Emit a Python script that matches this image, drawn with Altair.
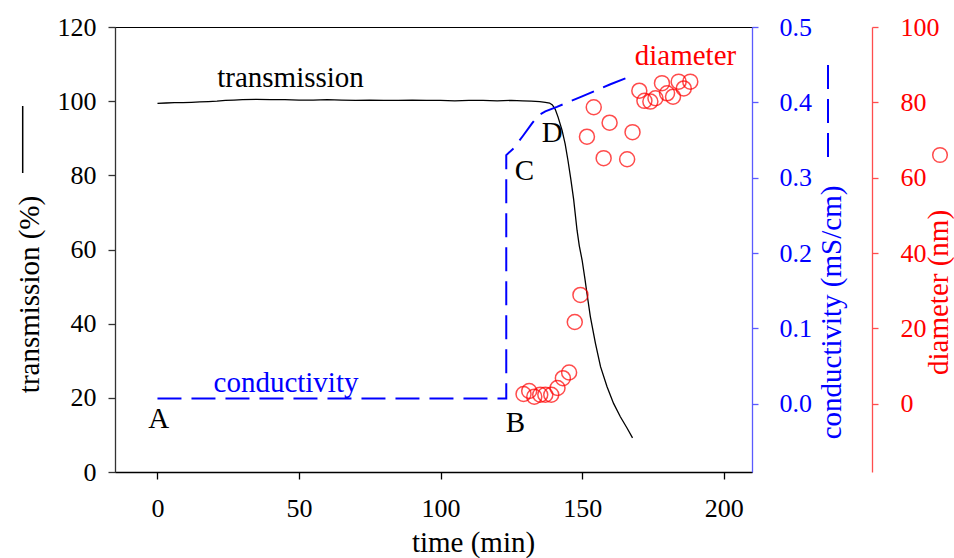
import altair as alt
import pandas as pd

FONT = "Liberation Serif"

# Transmission (%) against time (min)
trans_time = [0, 3, 6, 9, 12, 15, 18, 21, 24, 27, 30, 35, 40, 45, 50, 55, 60, 65, 70, 75,
              80, 85, 90, 95, 100, 105, 110, 115, 120, 125, 129, 132, 135, 137, 138.5,
              139.5, 140.5, 141.5, 142.9, 144, 145, 146, 147, 148.2, 149, 150, 151,
              151.7, 152.9, 154.7, 156.5, 158.8, 161.1, 163.5, 165.9, 167.8]
trans_value = [99.4, 99.5, 99.6, 99.6, 99.7, 99.8, 99.9, 100.0, 100.2, 100.3, 100.4, 100.5,
               100.4, 100.4, 100.3, 100.3, 100.4, 100.3, 100.2, 100.3, 100.2, 100.2, 100.3,
               100.2, 100.2, 100.1, 100.2, 100.2, 100.1, 100.2, 100.1, 100.0, 99.9, 99.7,
               99.5, 99.0, 97.8, 95.7, 92.2, 88.5, 84.0, 79.0, 73.5, 65.2, 61.0, 57.1, 52.0,
               48.2, 41.9, 34.7, 28.4, 23.0, 18.5, 14.9, 11.8, 9.2]

# Conductivity (mS/cm)
cond_time = [0, 123.2, 123.2, 125.8, 129.0, 132.3, 134.6, 137.0, 141.1, 150.0, 160.0, 168.2]
cond_value = [0.007, 0.007, 0.330, 0.339, 0.355, 0.372, 0.383, 0.388, 0.394, 0.408, 0.424, 0.436]

# Particle diameter (nm)
diam_time = [129.3, 131.3, 133.1, 135.2, 137.0, 139.1, 141.3, 143.2, 145.4, 147.4, 149.4,
             151.7, 154.1, 157.6, 159.7, 165.9, 167.8, 170.2, 172.0, 174.1, 175.9, 178.2,
             180.0, 182.1, 184.1, 185.9, 188.2]
diam_value = [2.6, 3.4, 1.9, 2.4, 2.4, 2.4, 4.2, 6.8, 8.3, 21.7, 28.9, 70.9, 78.7, 65.2,
              74.6, 64.9, 72.1, 83.1, 80.4, 80.2, 81.1, 85.1, 82.4, 81.5, 85.5, 83.7, 85.5]

# Point labels and series names, placed on the transmission scale
note_text = ["A", "B", "C", "D", "transmission", "conductivity", "diameter"]
note_time = [0.4, 126.4, 129.6, 139.4, 47.0, 45.4, 186.5]
note_level = [11.9, 10.9, 78.7, 89.0, 103.7, 21.6, 109.7]
note_color = ["black", "black", "black", "black", "black", "#0000ff", "#ff0000"]

trans_df = pd.DataFrame({"t": trans_time, "T": trans_value})
cond_df = pd.DataFrame({"t": cond_time, "c": cond_value, "i": range(len(cond_time))})
diam_df = pd.DataFrame({"t": diam_time, "d": diam_value})
note_df = pd.DataFrame({"t": note_time, "T": note_level, "label": note_text, "col": note_color})
one = pd.DataFrame({"k": [0]})

x_enc = alt.X(
    "t:Q",
    scale=alt.Scale(domain=[-15, 210], nice=False, zero=False),
    axis=alt.Axis(values=[0, 50, 100, 150, 200], title="time (min)", labelPadding=16,
                  domainColor="black", tickColor="black",
                  titleX=358, titleY=79, titleBaseline="alphabetic", titleAlign="center"),
)

t_axis = alt.Axis(values=[0, 20, 40, 60, 80, 100, 120], title="transmission (%)", orient="left",
                  labelPadding=12, domainColor="#333333", tickColor="#333333",
                  titleAngle=270, titleX=-76.7, titleY=267, titleAlign="center",
                  titleBaseline="alphabetic")
t_scale = alt.Scale(domain=[0, 120], nice=False, zero=False)

trans = alt.Chart(trans_df).mark_line(color="black", strokeWidth=1.3).encode(
    x=x_enc, y=alt.Y("T:Q", scale=t_scale, axis=t_axis)
)
notes = alt.Chart(note_df).mark_text(
    font=FONT, fontSize=29, align="center", baseline="alphabetic"
).encode(
    x=x_enc, y=alt.Y("T:Q", scale=t_scale, axis=t_axis),
    text="label:N", color=alt.Color("col:N", scale=None),
)

cond = alt.Chart(cond_df).mark_line(
    color="#0000ff", strokeWidth=2, strokeDash=[24, 10]
).encode(
    x=x_enc,
    y=alt.Y("c:Q", scale=alt.Scale(domain=[-0.0906, 0.5], nice=False, zero=False),
            axis=alt.Axis(values=[0, 0.1, 0.2, 0.3, 0.4, 0.5], format=".1f", orient="right",
                          title="conductivity (mS/cm)", tickSize=6, labelPadding=21,
                          domainColor="#5a5aff", tickColor="#5a5aff",
                          labelColor="#0000ff", titleColor="#0000ff",
                          titleAngle=270, titleX=88, titleY=285, titleAlign="center",
                          titleBaseline="alphabetic")),
    order=alt.Order("i:Q"),
)

diam = alt.Chart(diam_df).mark_point(
    shape="circle", filled=False, size=225, strokeWidth=1.5, color="#ff0000"
).encode(
    x=x_enc,
    y=alt.Y("d:Q", scale=alt.Scale(domain=[-18.1, 100], nice=False, zero=False),
            axis=alt.Axis(values=[0, 20, 40, 60, 80, 100], orient="right", offset=120,
                          title="diameter (nm)", tickSize=6, labelPadding=22,
                          domainColor="#ff4d4d", tickColor="#ff4d4d",
                          labelColor="#ff0000", titleColor="#ff0000",
                          titleAngle=270, titleX=75, titleY=265, titleAlign="center",
                          titleBaseline="alphabetic")),
)

# Line/marker keys beside the axis titles
key_trans = alt.Chart(one).mark_rule(color="black", strokeWidth=1.5).encode(
    x=alt.value(-92.3), y=alt.value(79), y2=alt.value(146)
)
key_cond = alt.Chart(one).mark_rule(color="#0000ff", strokeWidth=2, strokeDash=[24, 10]).encode(
    x=alt.value(713), y=alt.value(38), y2=alt.value(130)
)
key_diam = alt.Chart(one).mark_point(
    shape="circle", filled=False, size=213, strokeWidth=1.5, color="#ff0000"
).encode(x=alt.value(825), y=alt.value(128))

chart = alt.layer(
    alt.layer(trans, notes), cond, diam, key_trans, key_cond, key_diam
).resolve_scale(y="independent").properties(
    width=637, height=445,
    padding={"left": 115, "top": 27, "right": 202, "bottom": 86},
    autosize=alt.AutoSizeParams(type="none"),
).configure_axis(
    labelFont=FONT, titleFont=FONT, labelFontSize=26, titleFontSize=29,
    titleFontWeight="normal", grid=False, tickSize=7, domainWidth=1.3, tickWidth=1.3,
    labelColor="black", titleColor="black",
).configure_view(stroke="black", strokeWidth=1)

chart.save("out.html", embed_options={"renderer": "svg", "actions": False})
